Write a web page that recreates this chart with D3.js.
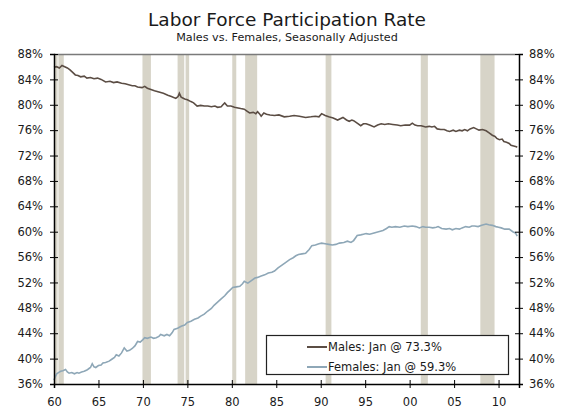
<!DOCTYPE html>
<html>
<head>
<meta charset="utf-8">
<script src="https://cdn.jsdelivr.net/npm/d3@7"></script>
<style>
  body { margin: 0; background: #fff; }
  svg text { font-family: "DejaVu Sans", Verdana, sans-serif; fill: #1a1a1a; }
</style>
</head>
<body>
<div id="chart"></div>
<script>
// data (decimal years, percent)
const maleDates = [1960.0,1960.3,1960.6,1960.9,1961.2,1961.5,1961.8,1962.1,1962.4,1962.7,1963.0,1963.4,1963.7,1964.1,1964.5,1964.9,1965.3,1965.8,1966.3,1966.7,1967.1,1967.6,1968.0,1968.3,1968.8,1969.1,1969.4,1969.9,1970.2,1970.5,1970.9,1971.3,1971.8,1972.3,1972.8,1973.2,1973.7,1973.95,1974.1,1974.3,1974.7,1975.0,1975.4,1975.7,1976.1,1976.5,1976.9,1977.3,1977.7,1978.1,1978.4,1978.8,1979.0,1979.2,1979.5,1979.9,1980.3,1980.7,1981.0,1981.4,1981.7,1982.0,1982.4,1982.7,1982.9,1983.1,1983.3,1983.6,1983.9,1984.3,1984.8,1985.3,1985.9,1986.5,1987.0,1987.6,1988.3,1988.9,1989.4,1989.8,1990.1,1990.5,1990.9,1991.4,1991.9,1992.2,1992.5,1992.9,1993.2,1993.5,1993.7,1994.1,1994.5,1994.8,1995.1,1995.5,1996.0,1996.4,1996.8,1997.2,1997.6,1998.1,1998.6,1999.0,1999.5,2000.0,2000.3,2000.6,2000.9,2001.3,2001.8,2002.2,2002.5,2002.8,2003.1,2003.5,2003.9,2004.2,2004.5,2004.9,2005.2,2005.6,2005.9,2006.2,2006.5,2006.8,2007.2,2007.5,2007.8,2008.2,2008.6,2008.9,2009.3,2009.6,2009.8,2010.1,2010.4,2010.6,2010.9,2011.2,2011.4,2011.7,2012.0,2012.1]
const maleValues = [85.9,86.0,85.8,86.2,86.0,85.8,85.5,85.1,84.7,84.6,84.4,84.5,84.2,84.3,84.1,84.2,84.0,83.6,83.7,83.5,83.6,83.4,83.3,83.2,83.0,83.0,82.8,82.7,82.9,82.6,82.4,82.2,82.0,81.8,81.5,81.3,81.0,81.3,81.8,81.2,80.9,80.8,80.5,80.3,79.8,79.9,79.8,79.8,79.7,79.8,79.6,79.7,80.0,80.3,79.8,79.8,79.6,79.5,79.4,79.3,79.0,78.7,78.8,78.6,78.9,78.6,78.2,78.7,78.5,78.4,78.3,78.4,78.1,78.2,78.3,78.2,78.0,78.1,78.2,78.1,78.6,78.3,78.1,77.9,77.6,77.8,78.0,77.6,77.4,77.6,77.5,77.1,76.7,77.0,77.0,76.8,76.5,76.8,77.0,76.9,77.0,76.9,76.8,76.7,76.8,76.8,77.1,76.8,76.7,76.7,76.5,76.6,76.5,76.6,76.2,76.1,76.1,75.9,75.8,76.0,75.8,76.0,75.9,76.1,75.9,76.2,76.4,76.2,76.0,76.1,75.9,75.6,75.2,75.0,74.7,74.5,74.6,74.2,74.1,73.9,73.6,73.5,73.4,73.3]

const femaleDates = [1960.0,1960.1,1960.3,1960.5,1960.75,1961.0,1961.3,1961.5,1961.7,1962.0,1962.3,1962.6,1962.8,1963.1,1963.4,1963.7,1963.9,1964.1,1964.3,1964.5,1964.7,1965.0,1965.3,1965.5,1965.8,1966.2,1966.5,1966.8,1967.0,1967.3,1967.6,1967.9,1968.2,1968.5,1968.8,1969.1,1969.4,1969.7,1970.0,1970.2,1970.5,1970.9,1971.2,1971.5,1971.8,1972.0,1972.4,1972.7,1973.0,1973.3,1973.5,1973.9,1974.3,1974.7,1975.0,1975.4,1975.8,1976.2,1976.5,1976.9,1977.3,1977.7,1978.0,1978.4,1978.8,1979.2,1979.5,1979.8,1980.1,1980.5,1980.9,1981.2,1981.4,1981.8,1982.2,1982.6,1982.9,1983.3,1983.7,1984.1,1984.5,1984.8,1985.2,1985.6,1986.0,1986.5,1986.9,1987.2,1987.5,1987.9,1988.3,1988.7,1989.0,1989.4,1989.8,1990.1,1990.5,1990.9,1991.3,1991.7,1992.1,1992.6,1993.0,1993.4,1993.7,1994.1,1994.5,1994.8,1995.1,1995.5,1996.0,1996.5,1997.0,1997.4,1997.7,1998.0,1998.4,1998.9,1999.4,1999.8,2000.3,2000.7,2001.1,2001.5,2001.8,2002.2,2002.6,2003.0,2003.2,2003.6,2004.1,2004.5,2004.8,2005.2,2005.6,2005.9,2006.3,2006.7,2007.0,2007.3,2007.7,2008.1,2008.6,2008.9,2009.3,2009.7,2010.0,2010.3,2010.7,2011.2,2011.6,2011.9,2012.1]
const femaleValues = [36.6,37.0,37.6,37.8,38.0,38.1,38.3,37.9,37.7,37.8,37.6,37.8,37.7,37.9,38.0,38.2,38.4,38.6,39.2,38.7,38.6,38.9,39.0,39.3,39.4,39.6,39.9,40.2,40.6,40.4,40.9,41.7,41.2,41.3,41.6,42.0,42.7,42.6,43.0,43.3,43.2,43.4,43.2,43.3,43.5,43.8,43.6,43.8,43.6,44.1,44.6,44.8,45.1,45.3,45.7,45.9,46.2,46.4,46.7,47.0,47.5,47.9,48.4,48.9,49.4,49.9,50.4,50.8,51.2,51.3,51.4,51.8,52.2,51.9,52.3,52.7,52.8,53.0,53.2,53.5,53.6,53.8,54.3,54.7,55.1,55.6,55.9,56.2,56.4,56.5,56.6,57.2,57.8,57.9,58.1,58.2,58.1,58.0,57.9,58.0,58.2,58.3,58.5,58.3,58.6,59.4,59.5,59.6,59.7,59.6,59.8,60.0,60.2,60.5,60.8,60.7,60.8,60.7,60.9,60.8,60.9,60.8,60.6,60.8,60.7,60.7,60.6,60.7,60.8,60.5,60.4,60.5,60.3,60.5,60.4,60.6,60.8,60.7,60.9,60.9,60.8,61.0,61.2,61.1,61.0,60.8,60.7,60.6,60.4,60.4,60.0,59.8,59.3]

// recession shading, start/end as decimal years
const recessionStarts = [1960.1,1960.5,1969.95,1973.9,1974.8,1980.05,1981.5,1990.55,2001.25,2007.95]
const recessionEnds   = [1960.4,1961.1,1970.9,1974.65,1975.2,1980.5,1982.85,1991.2,2002.05,2009.55]

const xTicks = [1960,1965,1970,1975,1980,1985,1990,1995,2000,2005,2010]
const yTicks = [36,40,44,48,52,56,60,64,68,72,76,80,84,88]
const legendLabels = ['Males: Jan @ 73.3%', 'Females: Jan @ 59.3%']

const colors = { male: '#5b4d44', female: '#8ea7b7', bar: '#d7d4c8' }

// dimensions
let dimensions = {
  width: 569,
  height: 410,
  margin: { top: 54, bottom: 26, left: 54, right: 50 }
}
dimensions.ctrWidth = dimensions.width - dimensions.margin.left - dimensions.margin.right
dimensions.ctrHeight = dimensions.height - dimensions.margin.top - dimensions.margin.bottom

const svg = d3.select('#chart')
  .append('svg')
  .attr('width', dimensions.width)
  .attr('height', dimensions.height)

// titles
svg.append('text')
  .attr('x', 287).attr('y', 26)
  .attr('text-anchor', 'middle')
  .style('font-size', '18.5px')
  .text('Labor Force Participation Rate')

svg.append('text')
  .attr('x', 287).attr('y', 41)
  .attr('text-anchor', 'middle')
  .style('font-size', '11.2px')
  .text('Males vs. Females, Seasonally Adjusted')

const ctr = svg.append('g')
  .attr('transform', `translate(${dimensions.margin.left},${dimensions.margin.top})`)

// scales
const xScale = d3.scaleLinear()
  .domain([1960, 2012.3])
  .range([0, dimensions.ctrWidth])

const yScale = d3.scaleLinear()
  .domain([36, 88])
  .range([dimensions.ctrHeight, 0])

// recession bars
ctr.selectAll('rect.rec')
  .data(recessionStarts)
  .join('rect')
  .attr('class', 'rec')
  .attr('x', d => xScale(d))
  .attr('width', (d, i) => xScale(recessionEnds[i]) - xScale(d))
  .attr('y', 0)
  .attr('height', dimensions.ctrHeight)
  .attr('fill', colors.bar)

// top border
ctr.append('line')
  .attr('x1', 0).attr('x2', dimensions.ctrWidth)
  .attr('y1', 0.5).attr('y2', 0.5)
  .attr('stroke', '#7a7a7a')
  .attr('stroke-width', 1.5)

// lines
const line = d3.line()
  .x(d => xScale(d[0]))
  .y(d => yScale(d[1]))

ctr.append('path')
  .datum(femaleDates.map((d, i) => [d, femaleValues[i]]))
  .attr('d', line)
  .attr('fill', 'none')
  .attr('stroke', colors.female)
  .attr('stroke-width', 1.6)

ctr.append('path')
  .datum(maleDates.map((d, i) => [d, maleValues[i]]))
  .attr('d', line)
  .attr('fill', 'none')
  .attr('stroke', colors.male)
  .attr('stroke-width', 1.6)

// axes (ticks cross the axis line)
const fmtPct = d => d + '%'

const yAxisLeft = ctr.append('g')
  .call(d3.axisLeft(yScale).tickValues(yTicks).tickFormat(fmtPct).tickSizeOuter(0).tickSize(4).tickPadding(7))
yAxisLeft.selectAll('.tick line').attr('x1', 4)

const yAxisRight = ctr.append('g')
  .attr('transform', `translate(${dimensions.ctrWidth},0)`)
  .call(d3.axisRight(yScale).tickValues(yTicks).tickFormat(fmtPct).tickSizeOuter(0).tickSize(4).tickPadding(6))
yAxisRight.selectAll('.tick line').attr('x1', -4)

const xAxis = ctr.append('g')
  .attr('transform', `translate(0,${dimensions.ctrHeight})`)
  .call(d3.axisBottom(xScale).tickValues(xTicks).tickFormat(d => String(d % 100).padStart(2, '0')).tickSizeOuter(0).tickSize(4).tickPadding(10))
xAxis.selectAll('.tick line').attr('y1', -4)

ctr.selectAll('.domain').attr('stroke', '#000').attr('stroke-width', 1.5)
ctr.selectAll('.tick line').attr('stroke', '#000')
ctr.selectAll('.tick text').style('font-size', '11.5px').attr('fill', '#1a1a1a')

// legend
const legend = svg.append('g').attr('transform', 'translate(266,335)')
legend.append('rect')
  .attr('x', 0.5).attr('y', 0.5)
  .attr('width', 242).attr('height', 39)
  .attr('fill', '#fff')
  .attr('stroke', '#222')
  .attr('stroke-width', 1.2)

const legendColors = [colors.male, colors.female]
legendLabels.forEach((label, i) => {
  const ly = 12 + i * 20
  legend.append('line')
    .attr('x1', 41).attr('x2', 61)
    .attr('y1', ly).attr('y2', ly)
    .attr('stroke', legendColors[i])
    .attr('stroke-width', 2)
  legend.append('text')
    .attr('x', 62).attr('y', ly)
    .attr('dy', '0.35em')
    .style('font-size', '11.5px')
    .text(label)
})
</script>
</body>
</html>
